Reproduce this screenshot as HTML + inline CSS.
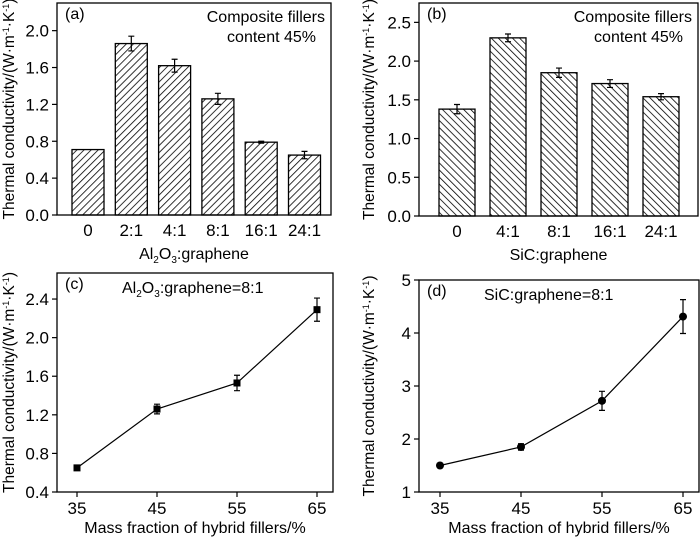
<!DOCTYPE html>
<html><head><meta charset="utf-8"><style>
html,body{margin:0;padding:0;background:#fff}
svg{display:block;font-family:"Liberation Sans",Arial,sans-serif}
</style></head><body>
<svg id="s" width="700" height="539" viewBox="0 0 700 539">
<defs>
<pattern id="hf" patternUnits="userSpaceOnUse" width="5" height="5" patternTransform="rotate(45)"><rect width="5" height="5" fill="#fff"/><line x1="0" y1="0" x2="0" y2="5" stroke="#000" stroke-width="1.6"/></pattern>
<pattern id="hb" patternUnits="userSpaceOnUse" width="5" height="5" patternTransform="rotate(-45)"><rect width="5" height="5" fill="#fff"/><line x1="0" y1="0" x2="0" y2="5" stroke="#000" stroke-width="1.6"/></pattern>
</defs>
</svg>
<script>
const aCats=["0","2:1","4:1","8:1","16:1","24:1"];
const aVals=[0.71,1.86,1.62,1.26,0.79,0.65];
const aErr=[0,0.08,0.07,0.06,0.01,0.04];
const aTicks=[0.0,0.4,0.8,1.2,1.6,2.0];
const bCats=["0","4:1","8:1","16:1","24:1"];
const bVals=[1.38,2.30,1.85,1.71,1.54];
const bErr=[0.06,0.05,0.06,0.05,0.04];
const bTicks=[0.0,0.5,1.0,1.5,2.0,2.5];
const cX=[35,45,55,65];
const cVals=[0.65,1.26,1.53,2.29];
const cErr=[0.01,0.05,0.08,0.12];
const cTicks=[0.4,0.8,1.2,1.6,2.0,2.4];
const dX=[35,45,55,65];
const dVals=[1.50,1.85,2.72,4.31];
const dErr=[0.04,0.06,0.18,0.32];
const dTicks=[1,2,3,4,5];
const xTicks=[35,45,55,65];

const S=document.getElementById('s');
const NS="http://www.w3.org/2000/svg";
function el(t,a,p){const e=document.createElementNS(NS,t);for(const k in a)e.setAttribute(k,a[k]);(p||S).appendChild(e);return e;}
function txt(x,y,s,a,p){const e=el('text',Object.assign({x:x,y:y,'font-size':16,'text-anchor':'middle',fill:'#000'},a||{}),p);e.innerHTML=s;return e;}

function frame(g,L,R,T,B,ticks,ys,fmt,ytitleX){
  const r=el('rect',{x:L,y:T,width:R-L,height:B-T,fill:'none',stroke:'#000','stroke-width':1.3},g);
  
  ticks.forEach(v=>{const y=ys(v);
    el('line',{x1:L-5,x2:L,y1:y,y2:y,stroke:'#000','stroke-width':1.2},g);
    const t=txt(L-8,y+6,fmt(v),{'text-anchor':'end','font-size':17},g);
    });
  const cy=(T+B)/2;
  const yt=txt(ytitleX,cy,'Thermal conductivity/(W·m<tspan dy="-5" font-size="9">-1</tspan><tspan dy="5">·K</tspan><tspan dy="-5" font-size="9">-1</tspan><tspan dy="5">)</tspan>',{transform:`rotate(-90 ${ytitleX} ${cy})`,'font-size':15.5},g);
  
}

function barPanel(name,L,R,T,B,ymax,ticks,cats,vals,err,xc0,step,bw,pat,fmt,xlabel,lab,ytx){
  const g=el('g',{});
  const ys=v=>B-v/ymax*(B-T);
  const xs=i=>xc0+i*step;
  cats.forEach((c,i)=>{
    const b=el('rect',{x:xs(i)-bw/2,y:ys(vals[i]),width:bw,height:B-ys(vals[i]),fill:`url(#${pat})`,stroke:'#000','stroke-width':1.3},g);
    
    if(err[i]>0){const x=xs(i),y1=ys(vals[i]+err[i]),y2=ys(vals[i]-err[i]);
      el('path',{d:`M${x} ${y1}V${y2}M${x-3} ${y1}H${x+3}M${x-3} ${y2}H${x+3}`,stroke:'#000','stroke-width':1.2,fill:'none'},g);}
    const t=txt(xs(i),B+21,c,{'font-size':17},g);
  });
  frame(g,L,R,T,B,ticks,ys,fmt,ytx);
  const xl=txt((L+R)/2,B+44,xlabel,{},g);
  const pl=txt(L+8,T+16,lab,{'text-anchor':'start'},g);
  const a1=txt(R-6,T+19,'Composite fillers',{'text-anchor':'end'},g);
  const a2=txt(R-15,T+39,'content 45%',{'text-anchor':'end'},g);
}

function linePanel(name,L,R,T,B,ymin,ymax,ticks,xv,vals,err,x0,x1,marker,fmt,lab,ann,ytx){
  const g=el('g',{});
  const ys=v=>B-(v-ymin)/(ymax-ymin)*(B-T);
  const xs=v=>x0+(v-35)/30*(x1-x0);
  xTicks.forEach(v=>{el('line',{x1:xs(v),x2:xs(v),y1:B,y2:B+5,stroke:'#000','stroke-width':1.2},g);
    const t=txt(xs(v),B+22,v,{'font-size':17},g);});
  const ln=el('polyline',{points:xv.map((v,i)=>xs(v)+','+ys(vals[i])).join(' '),fill:'none',stroke:'#000','stroke-width':1.2},g);
  
  xv.forEach((v,i)=>{const x=xs(v),y=ys(vals[i]);
    if(err[i]>0.015){const y1=ys(vals[i]+err[i]),y2=ys(vals[i]-err[i]);
      el('path',{d:`M${x} ${y1}V${y2}M${x-3} ${y1}H${x+3}M${x-3} ${y2}H${x+3}`,stroke:'#000','stroke-width':1.2,fill:'none'},g);}
    let m;
    if(marker==='sq')m=el('rect',{x:x-3.5,y:y-3.5,width:7,height:7,fill:'#000'},g);
    else m=el('circle',{cx:x,cy:y,r:4,fill:'#000'},g);
    
  });
  frame(g,L,R,T,B,ticks,ys,fmt,ytx);
  const xl=txt((L+R)/2,B+41,'Mass fraction of hybrid fillers/%',{},g);
  const pl=txt(L+8,T+16,lab,{'text-anchor':'start'},g);
  const an=txt(L+65,T+20,ann,{'text-anchor':'start'},g);
}
const sub=s=>`<tspan dy="4" font-size="10">${s}</tspan><tspan dy="-4">`;
barPanel('panel-a',57,331,3,215,2.3,aTicks,aCats,aVals,aErr,88,43.3,32,'hf',v=>v.toFixed(1),'Al'+sub('2')+'O'+sub('3')+':graphene</tspan></tspan>','(a)',14);
barPanel('panel-b',419,698,3,216,2.75,bTicks,bCats,bVals,bErr,457,51,36,'hb',v=>v.toFixed(1),'SiC:graphene','(b)',374);
linePanel('panel-c',57,333,273,492,0.4,2.67,cTicks,cX,cVals,cErr,77,317,'sq',v=>v.toFixed(1),'(c)','Al'+sub('2')+'O'+sub('3')+':graphene=8:1</tspan></tspan>',14);
linePanel('panel-d',419,699,280,492,1,5,dTicks,dX,dVals,dErr,440,683,'ci',v=>String(v),'(d)','SiC:graphene=8:1',374);
</script>
</body></html>
